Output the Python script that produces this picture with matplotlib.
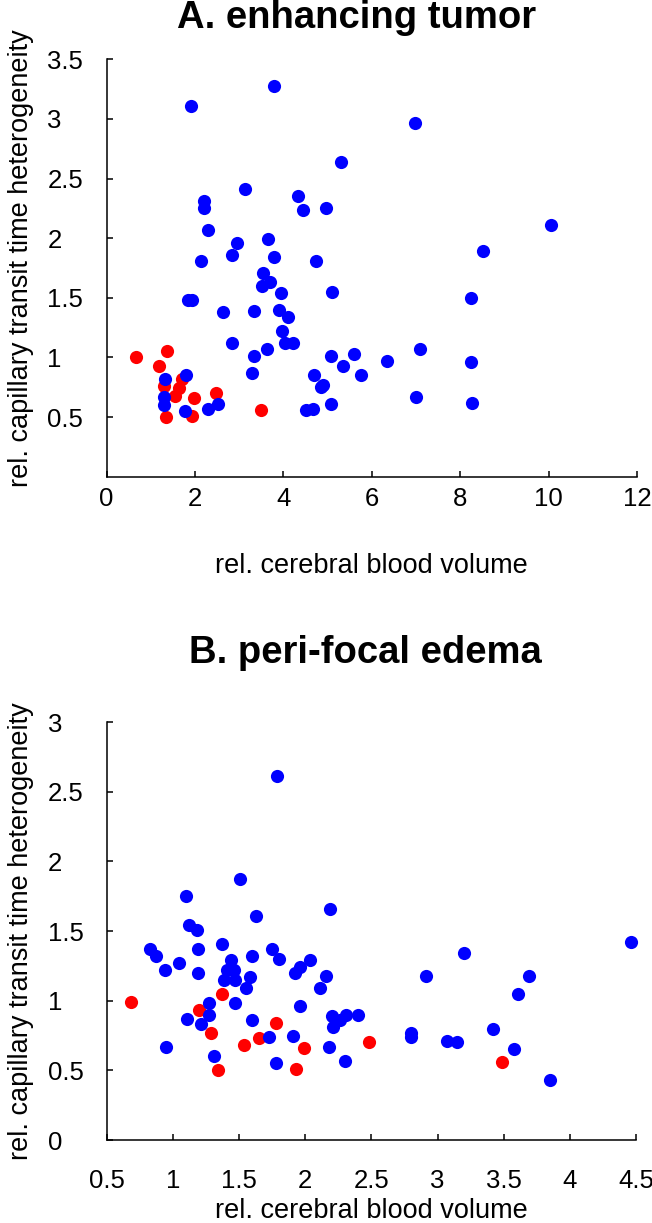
import matplotlib
matplotlib.use("Agg")
import matplotlib.pyplot as plt

# A. enhancing tumor: relative CBV vs relative CTH
tumor_blue_cbv = [1.92, 3.79, 5.30, 3.14, 2.21, 2.21, 2.30, 2.96, 2.84, 3.65,
                  3.79, 2.14, 4.34, 4.44, 4.97, 4.74, 6.97, 10.06, 8.51, 3.55,
                  3.70, 3.51, 3.95, 5.11, 1.85, 1.93, 2.64, 3.34, 3.90, 4.11,
                  3.96, 4.04, 4.21, 2.85, 3.62, 3.34, 5.07, 5.60, 5.34, 5.75,
                  3.29, 4.70, 4.89, 4.85, 5.07, 4.51, 4.68, 2.29, 2.52, 1.78,
                  1.80, 1.33, 1.29, 1.30, 8.24, 6.34, 7.09, 6.99, 8.24, 8.27]
tumor_blue_cth = [3.11, 3.28, 2.64, 2.41, 2.31, 2.25, 2.07, 1.96, 1.86, 1.99,
                  1.84, 1.81, 2.35, 2.24, 2.25, 1.81, 2.97, 2.11, 1.89, 1.71,
                  1.63, 1.60, 1.54, 1.55, 1.48, 1.48, 1.38, 1.39, 1.40, 1.34,
                  1.22, 1.12, 1.12, 1.12, 1.07, 1.01, 1.01, 1.03, 0.93, 0.85,
                  0.87, 0.85, 0.77, 0.75, 0.61, 0.56, 0.57, 0.57, 0.61, 0.55,
                  0.85, 0.82, 0.67, 0.60, 1.50, 0.97, 1.07, 0.67, 0.96, 0.62]
tumor_red_cbv = [0.67, 1.36, 1.18, 1.29, 1.65, 1.55, 1.98, 2.48, 1.34, 1.94, 3.50, 1.70]
tumor_red_cth = [1.00, 1.05, 0.93, 0.76, 0.74, 0.68, 0.66, 0.70, 0.50, 0.51, 0.56, 0.82]

# B. peri-focal edema
edema_blue_cbv = [1.785, 1.51, 1.10, 1.63, 2.19, 1.12, 1.18, 0.83, 0.87, 0.94,
                  1.05, 1.19, 1.19, 1.37, 1.44, 1.41, 1.46, 1.39, 1.47, 1.60,
                  1.58, 1.55, 1.47, 1.75, 1.80, 1.92, 1.96, 2.04, 2.16, 2.11,
                  1.96, 1.27, 1.27, 1.11, 1.21, 1.60, 0.95, 1.31, 1.73, 1.78,
                  1.91, 2.18, 2.30, 2.20, 2.21, 2.26, 2.31, 2.40, 4.46, 3.20,
                  2.91, 3.69, 3.61, 2.80, 2.80, 3.07, 3.15, 3.42, 3.58, 3.85]
edema_blue_cth = [2.61, 1.87, 1.75, 1.61, 1.66, 1.54, 1.51, 1.37, 1.32, 1.22,
                  1.27, 1.37, 1.20, 1.41, 1.29, 1.22, 1.22, 1.15, 1.15, 1.32,
                  1.17, 1.09, 0.98, 1.37, 1.30, 1.20, 1.24, 1.29, 1.18, 1.09,
                  0.96, 0.98, 0.90, 0.87, 0.83, 0.86, 0.67, 0.60, 0.74, 0.55,
                  0.75, 0.67, 0.57, 0.89, 0.81, 0.86, 0.90, 0.90, 1.42, 1.34,
                  1.18, 1.18, 1.05, 0.77, 0.74, 0.71, 0.70, 0.80, 0.65, 0.43]
edema_red_cbv = [0.68, 1.20, 1.37, 1.29, 1.34, 1.54, 1.65, 1.78, 1.99, 1.93, 2.48, 3.49]
edema_red_cth = [0.99, 0.93, 1.05, 0.77, 0.50, 0.68, 0.73, 0.84, 0.66, 0.51, 0.70, 0.56]

a_xticks = [0, 2, 4, 6, 8, 10, 12]
a_yticks = [0.5, 1, 1.5, 2, 2.5, 3, 3.5]
b_xticks = [0.5, 1, 1.5, 2, 2.5, 3, 3.5, 4, 4.5]
b_yticks = [0, 0.5, 1, 1.5, 2, 2.5, 3]

plt.rcParams["font.family"] = ["Liberation Sans", "DejaVu Sans"]

W, H = 652, 1223
fig = plt.figure(figsize=(W / 100, H / 100), dpi=100)

ax_a = fig.add_axes([106.5 / W, 1 - 476.7 / H, 530.5 / W, 417.4 / H])
ax_b = fig.add_axes([106.7 / W, 1 - 1140.0 / H, 529.3 / W, 418.0 / H])

ms = 90
for ax, rx, ry, bx, by in [
    (ax_a, tumor_red_cbv, tumor_red_cth, tumor_blue_cbv, tumor_blue_cth),
    (ax_b, edema_red_cbv, edema_red_cth, edema_blue_cbv, edema_blue_cth),
]:
    ax.scatter(rx, ry, s=ms, color="#ff0000", linewidths=0, zorder=2, clip_on=False)
    ax.scatter(bx, by, s=ms, color="#0000ff", linewidths=0, zorder=3, clip_on=False)
    ax.spines["top"].set_visible(False)
    ax.spines["right"].set_visible(False)
    for sp in ("left", "bottom"):
        ax.spines[sp].set_linewidth(1.1)
    ax.tick_params(direction="in", length=4, width=1.1, labelsize=18.5)
    ax.tick_params(axis="y", pad=42.5)
    ax.set_xlabel("rel. cerebral blood volume", fontsize=19.5)

# panel A axes
ax_a.set_xlim(0, 12)
ax_a.set_ylim(0, 3.5)
ax_a.set_xticks(a_xticks, [f"{v:g}" for v in a_xticks])
ax_a.set_yticks(a_yticks, [f"{v:g}" for v in a_yticks], ha="left")
ax_a.tick_params(axis="x", pad=7.5)
ax_a.xaxis.set_label_coords(0.5, -0.183)

# panel B axes
ax_b.set_xlim(0.5, 4.5)
ax_b.set_ylim(0, 3)
ax_b.set_xticks(b_xticks, [f"{v:g}" for v in b_xticks])
ax_b.set_yticks(b_yticks, [f"{v:g}" for v in b_yticks], ha="left")
ax_b.tick_params(axis="x", pad=21)
ax_b.xaxis.set_label_coords(0.5, -0.138)

# y labels sit at the far left edge of the figure
for yc in (258, 931):
    fig.text(21 / W, 1 - yc / H, "rel. capillary transit time heterogeneity",
             rotation=90, ha="center", va="center", fontsize=19.5)

fig.text(357 / W, 1 - 18 / H, "A. enhancing tumor", ha="center", va="center",
         fontsize=27.5, fontweight="bold")
fig.text(365 / W, 1 - 653 / H, "B. peri-focal edema", ha="center", va="center",
         fontsize=27.5, fontweight="bold")

fig.savefig("out.png", dpi=100)
